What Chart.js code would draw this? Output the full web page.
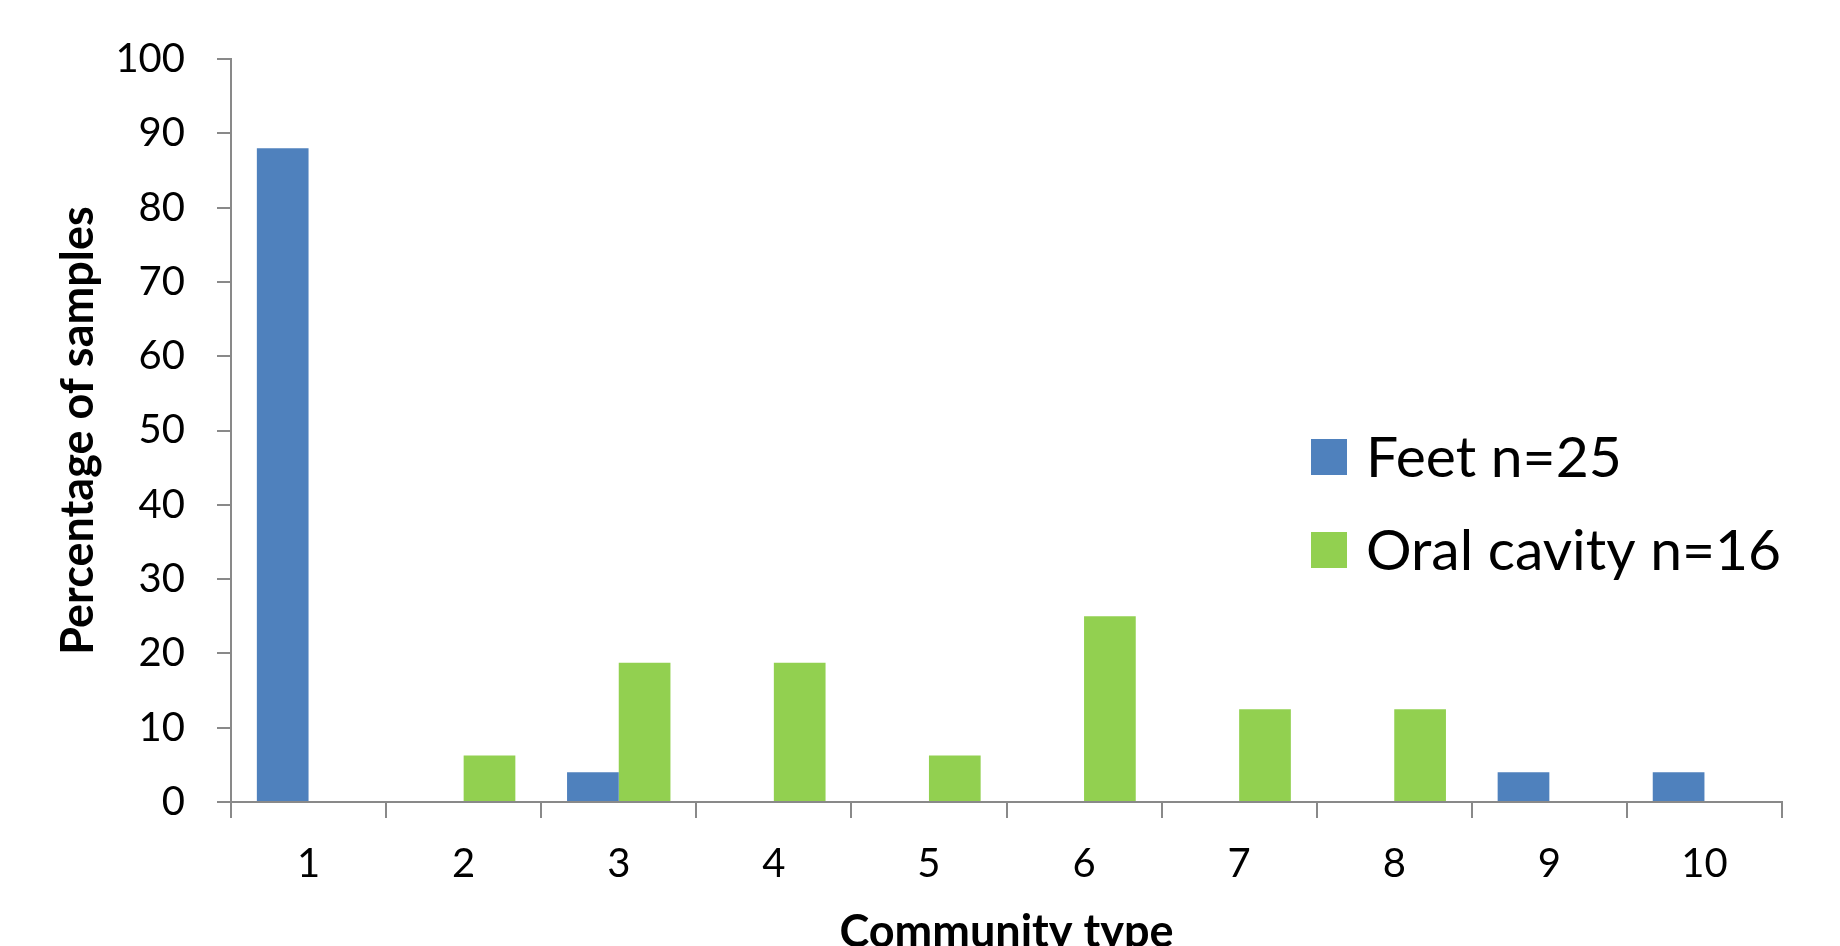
<!DOCTYPE html>
<html>
<head>
<meta charset="utf-8">
<script src="https://cdn.jsdelivr.net/npm/chart.js@4"></script>
<style>
  html, body { margin: 0; padding: 0; background: #fff; overflow: hidden; }
  #wrap { width: 1840px; height: 959px; }
</style>
</head>
<body>
<div id="wrap"><canvas id="chart" width="1840" height="959"></canvas></div>
<script>
// Community types on the x axis
const communityTypes = ['1', '2', '3', '4', '5', '6', '7', '8', '9', '10'];
// Percentage of samples per community type
const feetValues = [88, 0, 4, 0, 0, 0, 0, 0, 4, 4];
const oralValues = [0, 6.25, 18.75, 18.75, 6.25, 25, 12.5, 12.5, 0, 0];
const seriesNames = ['Feet n=25', 'Oral cavity n=16'];
const yTicks = [0, 10, 20, 30, 40, 50, 60, 70, 80, 90, 100];

const FONT = 'Lato, "Open Sans", sans-serif';
const AXIS_GREY = '#898989';

// Simple stacked legend placed inside the plot area
const sideLegend = {
  id: 'sideLegend',
  afterDraw(chart, args, opts) {
    const ctx = chart.ctx;
    ctx.save();
    ctx.font = opts.fontSize + 'px ' + FONT;
    ctx.textBaseline = 'middle';
    ctx.textAlign = 'left';
    chart.data.datasets.forEach((ds, i) => {
      const y = opts.y + i * opts.rowGap;
      ctx.fillStyle = ds.backgroundColor;
      ctx.fillRect(opts.x, y, opts.box, opts.box);
      ctx.fillStyle = '#000';
      ctx.fillText(ds.label, opts.x + opts.box + opts.textGap, y + opts.box / 2 + 2);
    });
    ctx.restore();
  }
};

new Chart(document.getElementById('chart'), {
  type: 'bar',
  data: {
    labels: communityTypes,
    datasets: [
      { label: seriesNames[0], data: feetValues, backgroundColor: '#4F81BD',
        categoryPercentage: 2 / 3, barPercentage: 1 },
      { label: seriesNames[1], data: oralValues, backgroundColor: '#92D050',
        categoryPercentage: 2 / 3, barPercentage: 1 }
    ]
  },
  options: {
    responsive: false,
    animation: false,
    layout: { padding: { top: 59, right: 58, left: 0, bottom: 0 } },
    plugins: {
      legend: { display: false },
      tooltip: { enabled: false },
      sideLegend: { x: 1311, y: 439, box: 36, rowGap: 93, textGap: 19, fontSize: 57 }
    },
    scales: {
      x: {
        grid: { display: true, drawOnChartArea: false, drawTicks: true, tickLength: 16,
                color: AXIS_GREY, lineWidth: 2, offset: true },
        border: { display: true, color: AXIS_GREY, width: 2 },
        ticks: { color: '#000', font: { family: FONT, size: 40 }, padding: 22, maxRotation: 0 },
        title: { display: true, text: 'Community type', color: '#000',
                 font: { family: FONT, size: 45, weight: 'bold' }, padding: { top: 0, bottom: 0 } },
        afterFit(scale) { scale.height = 157; }
      },
      y: {
        min: 0, max: 100,
        afterBuildTicks(scale) { scale.ticks = yTicks.map(v => ({ value: v })); },
        grid: { display: true, drawOnChartArea: false, drawTicks: true, tickLength: 14,
                color: AXIS_GREY, lineWidth: 2 },
        border: { display: true, color: AXIS_GREY, width: 2 },
        ticks: { color: '#000', font: { family: FONT, size: 40 }, padding: 32 },
        title: { display: true, text: 'Percentage of samples', color: '#000',
                 font: { family: FONT, size: 45, weight: 'bold' }, padding: { top: 51, bottom: 0 } },
        afterFit(scale) { scale.width = 231; }
      }
    }
  },
  plugins: [sideLegend]
});
</script>
</body>
</html>
